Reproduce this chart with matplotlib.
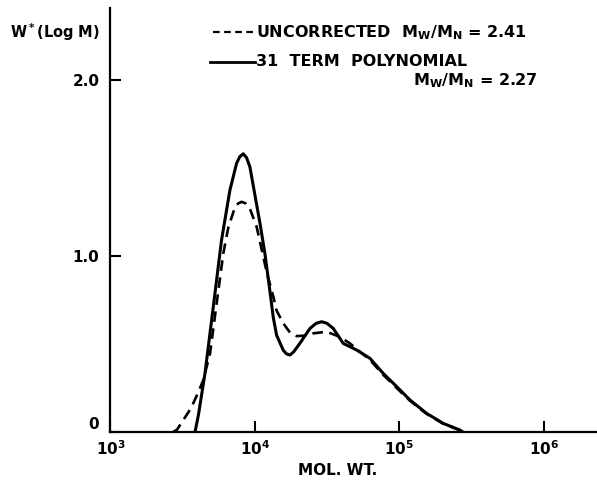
import numpy as np
import matplotlib
matplotlib.use("Agg")
import matplotlib.pyplot as plt
from matplotlib.ticker import FixedLocator, FixedFormatter, NullLocator

plt.rcParams['font.family'] = ['DejaVu Sans']
plt.rcParams['font.weight'] = 'bold'
plt.rcParams['mathtext.fontset'] = 'custom'
plt.rcParams['mathtext.bf'] = 'DejaVu Sans:bold'
plt.rcParams['mathtext.rm'] = 'DejaVu Sans:bold'
plt.rcParams['mathtext.default'] = 'bf'

# curva non corretta (tratteggiata)
mw_uncorr = [2720, 2900, 3190, 3480, 3740, 4050, 4390, 4890, 5430, 6040,
             6530, 7280, 7670, 8090, 8610, 9230, 10280, 12050, 13400,
             14130, 15700, 17500, 19450, 22000, 25350, 31330, 38730, 45390,
             62520, 77270, 95720, 118300, 154200, 200900, 262400, 275000]
w_uncorr = [0.0, 0.015, 0.068, 0.115, 0.163, 0.225, 0.295, 0.447, 0.73, 1.015,
            1.16, 1.28, 1.30, 1.309, 1.30, 1.27, 1.166, 0.91, 0.77,
            0.69, 0.618, 0.565, 0.545, 0.548, 0.561, 0.57, 0.541, 0.504,
            0.41, 0.325, 0.25, 0.178, 0.103, 0.047, 0.01, 0.0]

# polinomio a 31 termini (continua)
mw_poly = [3850, 4070, 4510, 5150, 5870, 6710, 7460, 7850, 8300, 8750,
           9230, 10840, 11720, 12700, 13400, 14130, 15700, 16500, 17460,
           18500, 20460, 24040, 26500, 28970, 31500, 34830, 40830, 50580,
           62520, 77270, 95720, 118300, 154200, 200900, 262400, 275000]
w_poly = [0.0, 0.1, 0.333, 0.712, 1.09, 1.375, 1.527, 1.565, 1.582, 1.56,
          1.507, 1.186, 1.015, 0.80, 0.65, 0.55, 0.465, 0.445, 0.4375,
          0.455, 0.504, 0.589, 0.618, 0.627, 0.618, 0.589, 0.504, 0.466,
          0.419, 0.333, 0.258, 0.182, 0.106, 0.049, 0.011, 0.0]

x_ticks = [1e3, 1e4, 1e5, 1e6]
x_labels = ['10$^3$', '10$^4$', '10$^5$', '10$^6$']
y_ticks = [0, 1, 2]
y_labels = ['0', '1.0', '2.0']

fig = plt.figure(figsize=(5.97, 4.8), dpi=100)
ax = fig.add_axes([0.185, 0.1, 0.815, 0.883])

ax.plot(mw_uncorr, w_uncorr, color='black', lw=1.9, linestyle=(0, (4, 2.5)))
ax.plot(mw_poly, w_poly, color='black', lw=2.2)

ax.set_xscale('log')
ax.set_xlim(1e3, 2.33e6)
ax.set_ylim(0, 2.41)

ax.xaxis.set_major_locator(FixedLocator(x_ticks))
ax.xaxis.set_major_formatter(FixedFormatter(x_labels))
ax.xaxis.set_minor_locator(NullLocator())
ax.yaxis.set_major_locator(FixedLocator(y_ticks))
ax.yaxis.set_major_formatter(FixedFormatter(y_labels))

ax.tick_params(axis='both', direction='in', length=8, width=1.5,
               labelsize=11, pad=5)
ax.tick_params(axis='y', pad=8)
# lo "0" sta un po' sopra l'asse come nell'originale
ax.yaxis.get_major_ticks()[0].label1.set_va('bottom')

for s in ['top', 'right']:
    ax.spines[s].set_visible(False)
for s in ['left', 'bottom']:
    ax.spines[s].set_linewidth(1.6)

ax.set_xlabel('MOL. WT.', fontsize=11, fontweight='bold', va='center')
ax.xaxis.set_label_coords(0.466, -0.09)

fig.text(0.168, 0.933, 'W$^*$(Log M)', fontsize=10.5, ha='right', va='center')

# legenda disegnata a mano
fig.add_artist(plt.Line2D([0.357, 0.424], [0.933, 0.933], color='black',
                          lw=1.6, linestyle=(0, (3, 2))))
fig.add_artist(plt.Line2D([0.352, 0.427], [0.871, 0.871], color='black', lw=2.0))
fig.text(0.429, 0.933, 'UNCORRECTED  M$_W$/M$_N$ = 2.41', fontsize=11.5,
         ha='left', va='center')
fig.text(0.429, 0.871, '31  TERM  POLYNOMIAL', fontsize=11.5,
         ha='left', va='center')
fig.text(0.901, 0.833, 'M$_W$/M$_N$ = 2.27', fontsize=11.5,
         ha='right', va='center')

fig.savefig('out.png', dpi=100)
